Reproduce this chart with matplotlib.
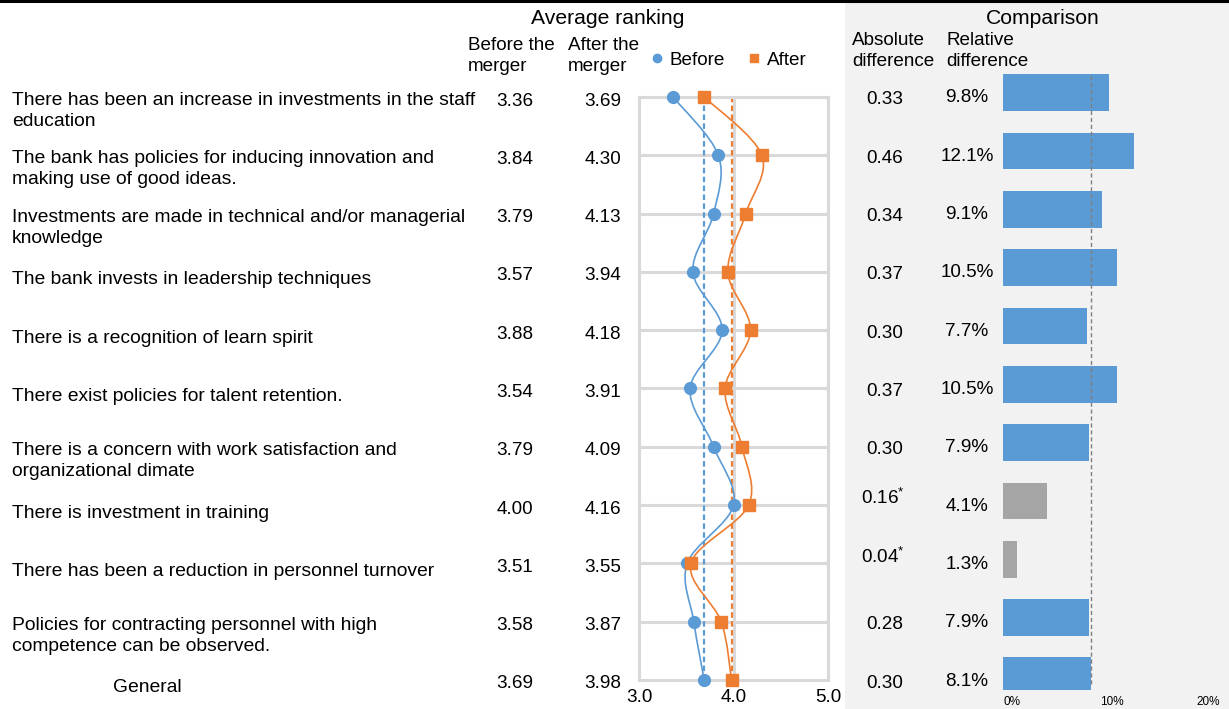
import matplotlib
matplotlib.use("Agg")
import matplotlib.pyplot as plt
from matplotlib.path import Path
from matplotlib.patches import PathPatch, Rectangle
from matplotlib.lines import Line2D
import numpy as np

# ---------------- data ----------------
statements = [
    "There has been an increase in investments in the staff\neducation",
    "The bank has policies for inducing innovation and\nmaking use of good ideas.",
    "Investments are made in technical and/or managerial\nknowledge",
    "The bank invests in leadership techniques",
    "There is a recognition of learn spirit",
    "There exist policies for talent retention.",
    "There is a concern with work satisfaction and\norganizational dimate",
    "There is investment in training",
    "There has been a reduction in personnel turnover",
    "Policies for contracting personnel with high\ncompetence can be observed.",
    "General",
]
before = [3.36, 3.84, 3.79, 3.57, 3.88, 3.54, 3.79, 4.00, 3.51, 3.58, 3.69]
after = [3.69, 4.30, 4.13, 3.94, 4.18, 3.91, 4.09, 4.16, 3.55, 3.87, 3.98]
abs_diff = [0.33, 0.46, 0.34, 0.37, 0.30, 0.37, 0.30, 0.16, 0.04, 0.28, 0.30]
rel_diff = [9.8, 12.1, 9.1, 10.5, 7.7, 10.5, 7.9, 4.1, 1.3, 7.9, 8.1]
significant = [True, True, True, True, True, True, True, False, False, True, True]
rank_ticks = [3.0, 4.0, 5.0]
pct_ticks = [0, 10, 20]
pct_labels = ["0%", "10%", "20%"]

BLUE = "#5B9BD5"
ORANGE = "#ED7D31"
GRAYBAR = "#A5A5A5"
GRID = "#D9D9D9"
FONT = "Liberation Sans"

plt.rcParams["font.family"] = [FONT, "DejaVu Sans"]
plt.rcParams["mathtext.fontset"] = "custom"
plt.rcParams["mathtext.rm"] = FONT

W, H = 1229, 709
fig = plt.figure(figsize=(W / 100, H / 100), dpi=100)


def fx(x):
    return x / W


def fy(y):
    return 1 - y / H


n = len(statements)
ROW0, ROWSTEP = 97.0, 58.3


def row_y(i):
    return ROW0 + ROWSTEP * i


# grey comparison panel + top rule
fig.patches.append(Rectangle((fx(845), 0), 1 - fx(845), fy(3), transform=fig.transFigure,
                             facecolor="#F2F2F2", edgecolor="none", zorder=-5))
fig.lines.append(Line2D([0, 1], [fy(1.2), fy(1.2)], transform=fig.transFigure,
                        color="black", lw=2.2, zorder=-4))

TS = 13.6
LTS = 13.9
LS = 1.32
# headers
fig.text(fx(608), fy(18), "Average ranking", ha="center", va="center", fontsize=15.2)
fig.text(fx(1043), fy(18), "Comparison", ha="center", va="center", fontsize=15.2)
fig.text(fx(468), fy(56), "Before the\nmerger", ha="left", va="center", fontsize=TS, linespacing=LS)
fig.text(fx(568), fy(56), "After the\nmerger", ha="left", va="center", fontsize=TS, linespacing=LS)
fig.text(fx(852), fy(51), "Absolute\ndifference", ha="left", va="center", fontsize=TS, linespacing=LS)
fig.text(fx(946), fy(51), "Relative\ndifference", ha="left", va="center", fontsize=TS, linespacing=LS)

# table text
for i in range(n):
    y = row_y(i)
    lab = statements[i]
    if lab == "General":
        fig.text(fx(147), fy(y + 7), lab, ha="center", va="center", fontsize=LTS)
    elif "\n" in lab:
        fig.text(fx(12), fy(y - 5), lab, ha="left", va="top", fontsize=LTS, linespacing=LS)
    else:
        fig.text(fx(12), fy(y + 8), lab, ha="left", va="center", fontsize=LTS)
    vy = y + 4 if "\n" in lab else y + 4
    fig.text(fx(515), fy(vy), f"{before[i]:.2f}", ha="center", va="center", fontsize=TS)
    fig.text(fx(603), fy(vy), f"{after[i]:.2f}", ha="center", va="center", fontsize=TS)
    ay = y + 3
    if significant[i]:
        fig.text(fx(885), fy(ay), f"{abs_diff[i]:.2f}", ha="center", va="center", fontsize=TS)
    else:
        fig.text(fx(883), fy(ay - 10), f"{abs_diff[i]:.2f}" + r"$^{*}$", ha="center",
                 va="center", fontsize=TS)
    fig.text(fx(967), fy(y + 1), f"{rel_diff[i]:.1f}%", ha="center", va="center", fontsize=TS)

# ---------------- ranking line chart ----------------
ax = fig.add_axes([fx(639), fy(680), (828 - 639) / W, (680 - 97) / H])
ax.set_xlim(3.0, 5.0)
ax.set_ylim(n - 1, 0)
ax.set_xticks(rank_ticks)
ax.set_xticklabels([f"{t:.1f}" for t in rank_ticks], fontsize=TS)
ax.set_yticks(range(n))
ax.tick_params(axis="y", left=False, labelleft=False)
ax.tick_params(axis="x", bottom=False, pad=3)
ax.grid(True, color=GRID, lw=2.2)
ax.set_axisbelow(True)
for s in ax.spines.values():
    s.set_color(GRID)
    s.set_linewidth(2.2)
ax.set_facecolor("white")

rows = np.arange(n)


def smooth_path(xs, ys):
    pts = np.column_stack([xs, ys]).astype(float)
    verts = [pts[0]]
    codes = [Path.MOVETO]
    m = len(pts)
    for k in range(m - 1):
        p0 = pts[k - 1] if k > 0 else pts[k]
        p1 = pts[k]
        p2 = pts[k + 1]
        p3 = pts[k + 2] if k + 2 < m else pts[k + 1]
        c1 = p1 + (p2 - p0) / 6.0
        c2 = p2 - (p3 - p1) / 6.0
        verts += [c1, c2, p2]
        codes += [Path.CURVE4] * 3
    return Path(verts, codes)


ax.axvline(before[-1], color=BLUE, lw=1.6, ls=(0, (2.5, 1.5)), zorder=2)
ax.axvline(after[-1], color=ORANGE, lw=1.6, ls=(0, (2.5, 1.5)), zorder=2)

for vals, col in [(before, BLUE), (after, ORANGE)]:
    pp = PathPatch(smooth_path(vals, rows), facecolor="none", edgecolor=col, lw=1.2,
                   zorder=3, clip_on=False)
    ax.add_patch(pp)
ax.plot(before, rows, ls="none", marker="o", ms=8.5, color=BLUE, mec=BLUE, zorder=4,
        clip_on=False, label="Before")
ax.plot(after, rows, ls="none", marker="s", ms=8.5, color=ORANGE, mec=ORANGE, zorder=4,
        clip_on=False, label="After")

fig.legend(handles=[Line2D([], [], ls="none", marker="o", ms=6, color=BLUE, label="Before"),
                    Line2D([], [], ls="none", marker="s", ms=6, color=ORANGE, label="After")],
           loc="center", bbox_to_anchor=(fx(727), fy(60)), ncol=2, frameon=False,
           fontsize=TS, handletextpad=0.2, columnspacing=1.0, handlelength=1.0,
           borderaxespad=0, borderpad=0)

# ---------------- relative difference bars ----------------
bx = fig.add_axes([fx(1003), fy(690), (1220 - 1003) / W, (690 - 66) / H])
bx.set_xlim(0, 20)
r_top = -0.5
r_bot = r_top + (690 - 66) / ROWSTEP
bx.set_ylim(r_bot, r_top)
bx.patch.set_alpha(0)
for s in bx.spines.values():
    s.set_visible(False)
colors = [BLUE if s else GRAYBAR for s in significant]
bx.barh(rows - 0.04, rel_diff, height=0.63, color=colors, edgecolor="none", zorder=2)
bx.axvline(rel_diff[-1], ymin=0.01, ymax=0.985, color="#7F7F7F", lw=1.0,
           ls=(0, (3, 2)), zorder=3)
bx.set_yticks([])
bx.set_xticks(pct_ticks)
bx.set_xticklabels(pct_labels, fontsize=8.5)
for lbl, ha in zip(bx.get_xticklabels(), ["left", "center", "right"]):
    lbl.set_ha(ha)
bx.tick_params(axis="x", bottom=False, pad=1)

fig.savefig("out.png", dpi=100)
